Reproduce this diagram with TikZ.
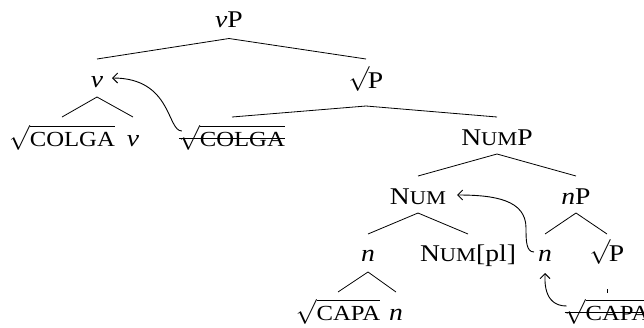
\documentclass[tikz,border=0pt]{standalone}
\usepackage{fontspec}
\setmainfont{Liberation Serif}[FakeStretch=1.15]
\usetikzlibrary{calc,arrows.meta}
\newcommand\smc[1]{{\fontsize{19.5}{20}\selectfont #1}}
\newcommand\rt[1]{$\sqrt{\hbox{\fontsize{21.5}{22}\selectfont #1}}$}
\newcommand\rtP{$\sqrt{\vphantom{\mathrm{P}}}$\kern-1.5pt P}
\newcommand\treeedge[4]{\draw[edge] ($(#1.base)+(0,#2)$) -- ($(#3.base)+(0,-#4)$);}
\newcommand\strikenode[1]{\draw[strike] ($(#1.base west)+(0,-8)$) -- ($(#1.base east)+(0,-8)$);}
\begin{document}
\begin{tikzpicture}[x=1pt,y=-1pt,
  every node/.style={inner sep=0pt,anchor=base,font=\fontsize{24}{28}\selectfont},
  edge/.style={line width=0.8pt},
  strike/.style={line width=0.8pt},
  mv/.style={line width=0.9pt,-{Straight Barb[length=5pt,width=10pt]}}]
\useasboundingbox (0,0) rectangle (644,327);
\clip (0,0) rectangle (644,327);
% nodes
\node (vP)  at (229,27.5) {\textit{v}P};
\node (v)   at (97,87)    {\textit{v}};
\node (rP)  at (366,88)   {\rtP};
\node (rC)  at (62,146)   {\rt{COLGA}};
\node (v2)  at (133,146)  {\textit{v}};
\node (sC)  at (232,146)  {\rt{COLGA}};
\node (NumP) at (497,145) {N\smc{UM}P};
\node (Num) at (418,204)  {N\smc{UM}};
\node (nP)  at (576,204)  {\textit{n}P};
\node (n)   at (368,261)  {\textit{n}};
\node (Npl) at (468,261)  {N\smc{UM}[pl]};
\node (n2)  at (545,261)  {\textit{n}};
\node (rP2) at (607,261)  {\rtP};
\node (rA)  at (338,320)  {\rt{CAPA}};
\node (n3)  at (396,320)  {\textit{n}};
\node (sA)  at (607,320)  {\rt{CAPA}};
% tree edges
\treeedge{vP}{11}{v}{28}
\treeedge{vP}{11}{rP}{29}
\treeedge{v}{10}{rC}{29}
\treeedge{v}{10}{v2}{29}
\treeedge{rP}{18}{sC}{29}
\treeedge{rP}{18}{NumP}{28}
\treeedge{NumP}{9}{Num}{28}
\treeedge{NumP}{9}{nP}{28}
\treeedge{Num}{9}{n}{27}
\treeedge{Num}{9}{Npl}{27}
\treeedge{nP}{9}{n2}{27}
\treeedge{nP}{9}{rP2}{27}
\treeedge{n}{11}{rA}{28}
\treeedge{n}{11}{n3}{28}
\treeedge{rP2}{28}{sA}{27}
% strikes
\strikenode{sC}
\strikenode{sA}
% movement arrows
\coordinate (m1s) at ($(sC.base west)+(3,-15)$);
\coordinate (m1e) at ($(v.base)+(15,-9)$);
\draw[mv] (m1s) .. controls +(-15,0) and +(60,0) .. (m1e);
\coordinate (m2s) at ($(n2.base)+(-11,-9)$);
\coordinate (m2e) at ($(Num.base)+(39,-9)$);
\draw[mv] (m2s) .. controls +(-8,0) and +(0,12) .. ($(m2s)+(-8,-24)$) .. controls +(0,-28) and +(38,0) .. (m2e);
\coordinate (m3s) at ($(sA.base west)+(2,-14)$);
\coordinate (m3e) at ($(n2.base)+(0,12)$);
\draw[mv] (m3s) .. controls +(-24,0) and +(0,6) .. (m3e);
\end{tikzpicture}
\end{document}
